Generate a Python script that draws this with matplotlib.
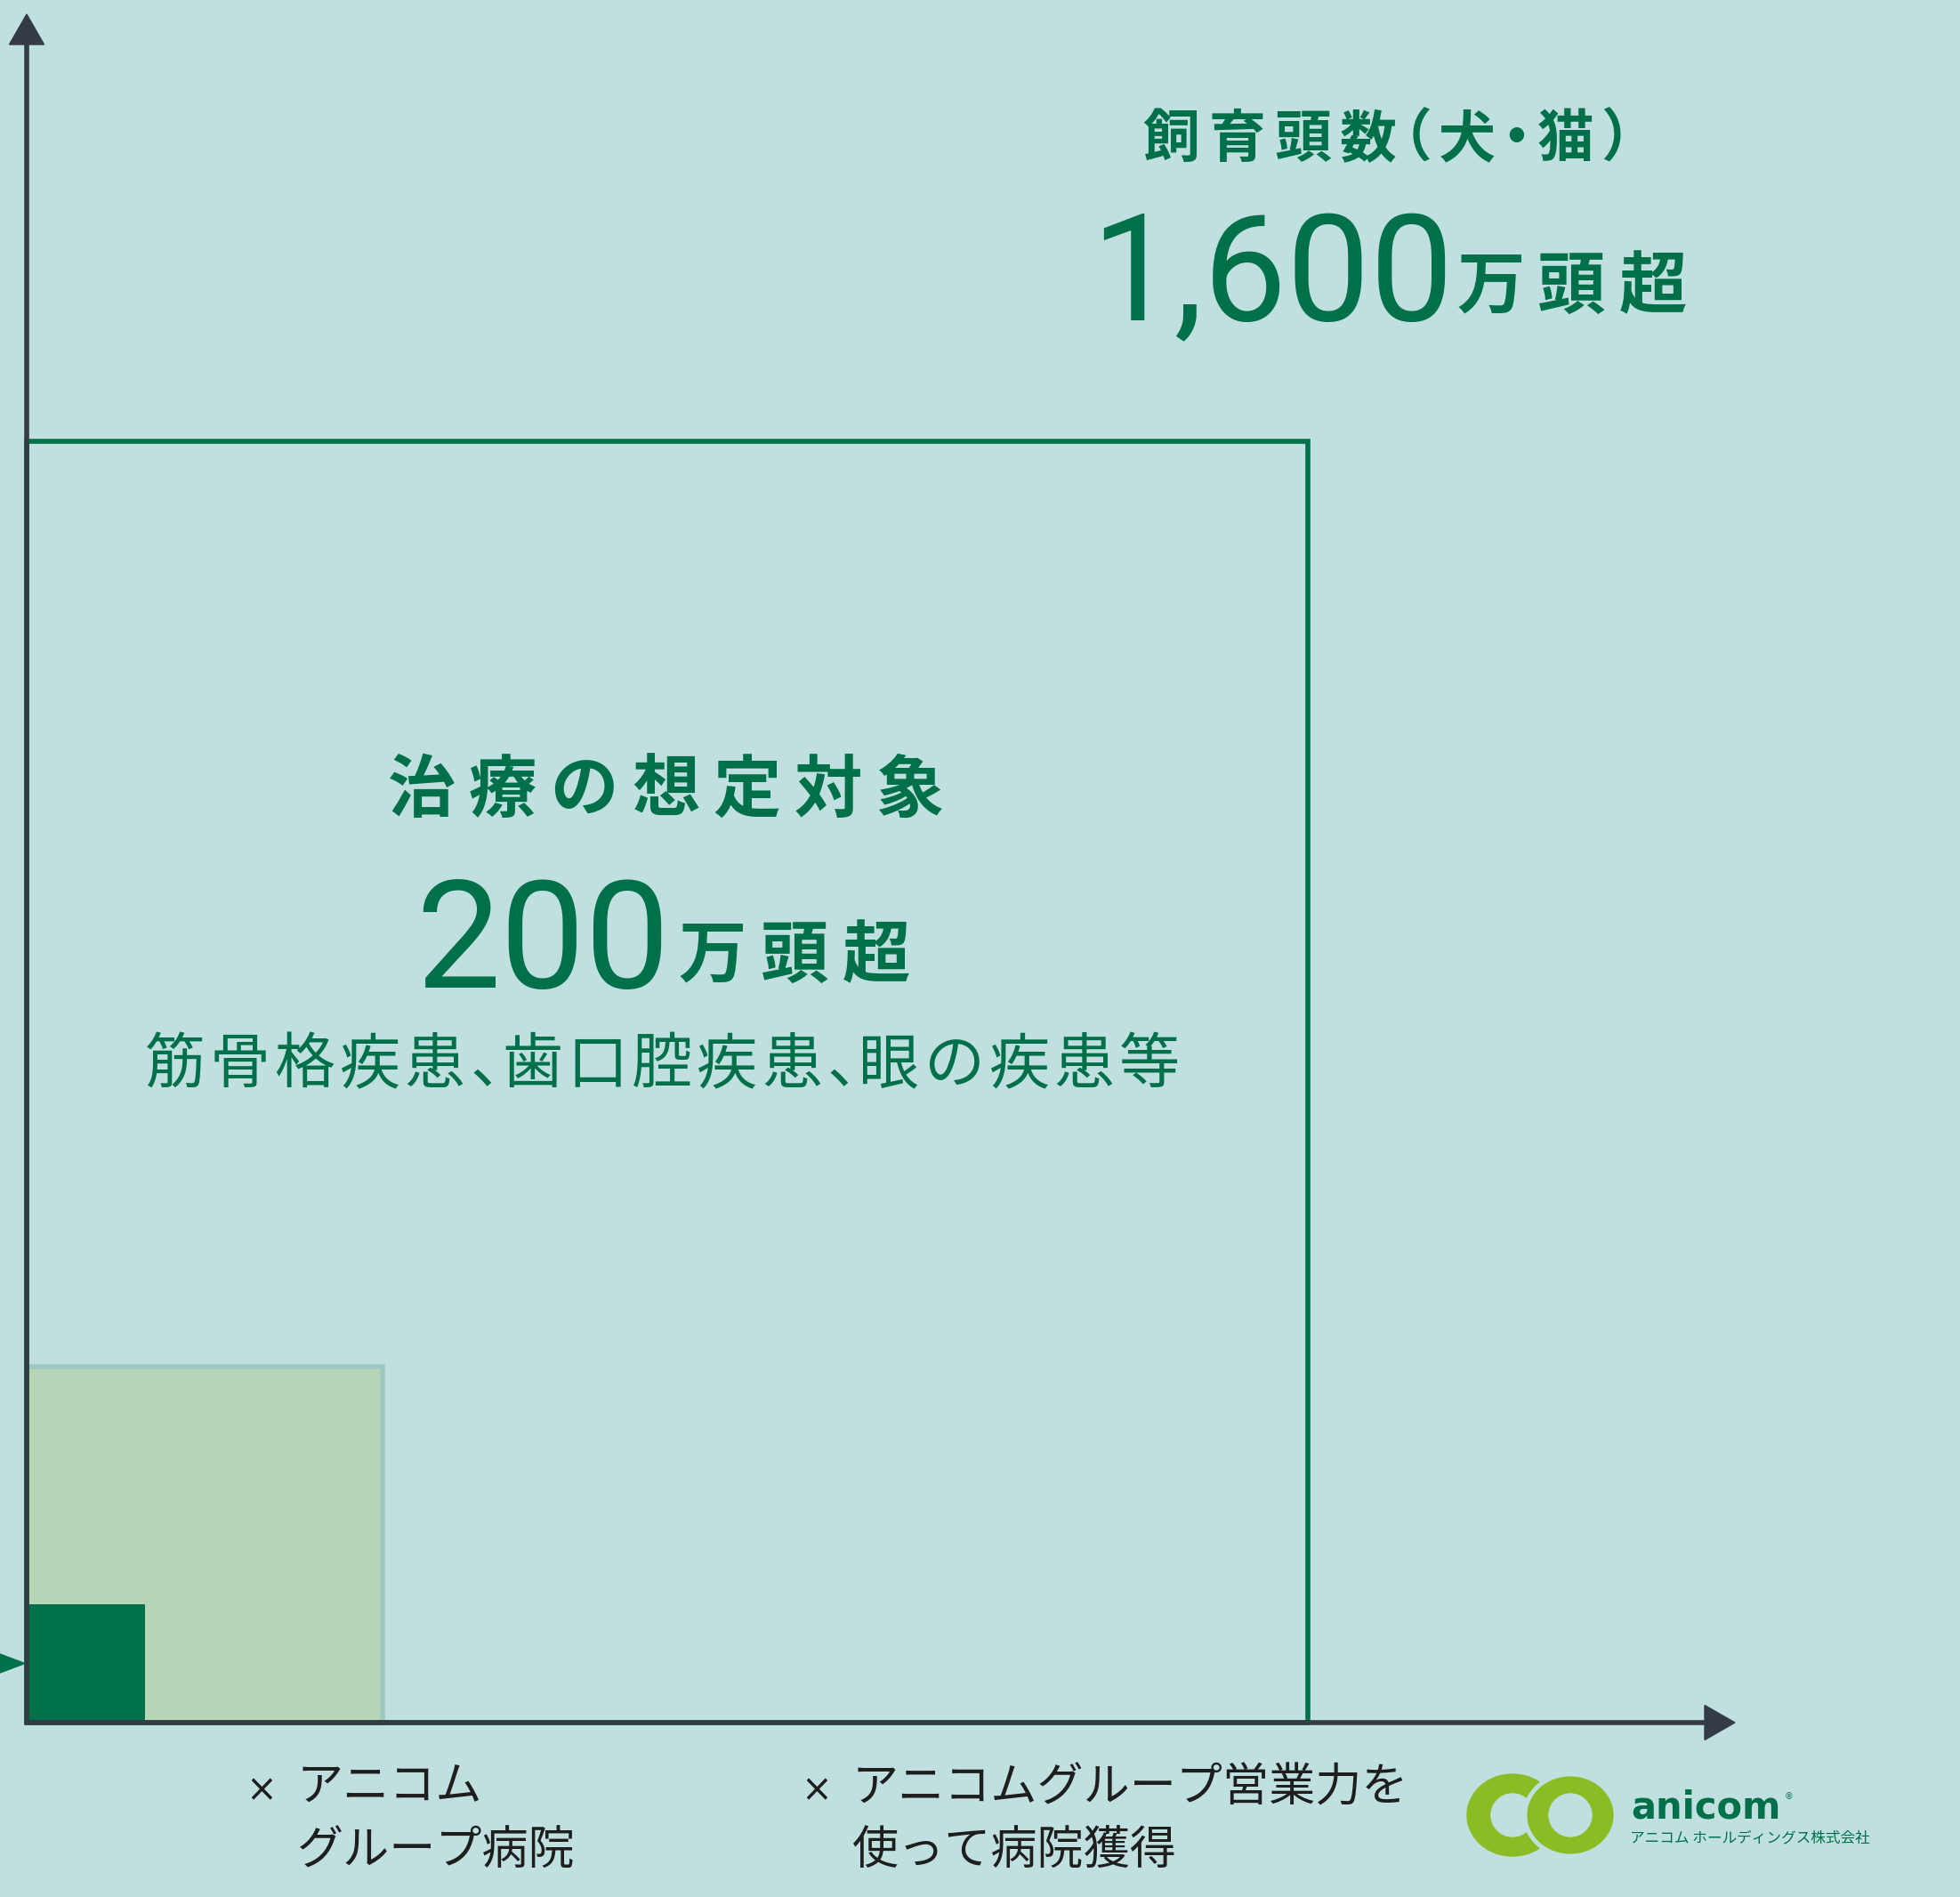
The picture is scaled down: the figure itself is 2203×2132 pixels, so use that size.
import matplotlib
matplotlib.use('Agg')
import matplotlib.pyplot as plt
from matplotlib.patches import Rectangle, Polygon, Ellipse

# データ
square_sides = [1440, 400, 133]          # 治療の想定対象 / アニコムグループ病院 / 現在
total_label = '飼育頭数（犬・猫）'
total_value = '1,600'
target_label = '治療の想定対象'
target_value = '200'
unit_label = '万頭超'
target_note = '筋骨格疾患、歯口腔疾患、眼の疾患等'
x_labels = [['アニコム', 'グループ病院'], ['アニコムグループ営業力を', '使って病院獲得']]

BG = '#c0e0e0'
GREEN = '#00704a'
LIGHT = '#b7d6b8'
LIGHT_EDGE = '#9dc9c0'
AXIS = '#333c44'
LIME = '#8abc24'
JP = ['Noto Sans CJK JP', 'DejaVu Sans']
NUM = ['Roboto', 'DejaVu Sans']

# 約物は半角送り、字面のずれを補正（em単位）
HALF = {'（': 0.5, '）': 0.5, '・': 0.5, '、': 0.5}
SHIFT = {'（': -0.25, '）': 0.25, '、': 0.28}


def spaced(ax, x0, y, text, pitch, fontsize, **kw):
    # 1文字ずつ並べて字間を広げる
    em = fontsize * 100 / 72
    x = x0
    for ch in text:
        w = pitch * HALF.get(ch, 1.0)
        ax.text(x + w / 2 + SHIFT.get(ch, 0) * em, y, ch, ha='center', va='baseline',
                fontsize=fontsize, **kw)
        x += w


fig = plt.figure(figsize=(22.03, 21.32), dpi=100, facecolor=BG)
ax = fig.add_axes([0, 0, 1, 1])
ax.set_xlim(-30, 2173)
ax.set_ylim(-196, 1936)
ax.set_facecolor(BG)
ax.axis('off')

lw = 4.0  # 約5.5px

big, mid, small = square_sides
ax.add_patch(Rectangle((0, 0), mid, mid, facecolor=LIGHT, edgecolor=LIGHT_EDGE, lw=lw, zorder=1))
ax.add_patch(Rectangle((0, 0), small, small, facecolor=GREEN, edgecolor='none', zorder=2))
ax.add_patch(Rectangle((0, 0), big, big, facecolor='none', edgecolor=GREEN, lw=lw, zorder=2))

# 軸と矢印
ax_len = 1920
head = 34
ax.plot([0, 0], [-2, ax_len - head], color=AXIS, lw=lw, solid_capstyle='butt', zorder=3)
ax.plot([-2, ax_len - head], [0, 0], color=AXIS, lw=lw, solid_capstyle='butt', zorder=3)
ax.add_patch(Polygon([(0, ax_len), (-19.5, ax_len - head), (19.5, ax_len - head)],
                     closed=True, color=AXIS, zorder=3))
ax.add_patch(Polygon([(ax_len, 0), (ax_len - head, -19.5), (ax_len - head, 19.5)],
                     closed=True, color=AXIS, zorder=3))
# 現在位置の小さな矢印
ax.add_patch(Polygon([(-2, small / 2), (-34, small / 2 - 12), (-34, small / 2 + 12)],
                     closed=True, color=GREEN, zorder=3))

# 上部テキスト
spaced(ax, 1249, 1760, total_label, 74, 46, family=JP, weight='bold', color=GREEN)
ax.text(1400, 1576, total_value, ha='center', va='baseline', family=NUM,
        fontsize=120, color=GREEN)
spaced(ax, 1600, 1590, unit_label, 91, 55, family=JP, weight='bold', color=GREEN)

# 中央テキスト
spaced(ax, 398, 1024, target_label, 91.5, 55, family=JP, weight='bold', color=GREEN)
ax.text(580, 826, target_value, ha='center', va='baseline', family=NUM,
        fontsize=122, color=GREEN)
spaced(ax, 725, 838, unit_label, 92, 55, family=JP, weight='bold', color=GREEN)
spaced(ax, 130, 719, target_note, 73, 49, family=JP, color=GREEN)

# 横軸の説明
for xs, lines in zip([264, 888], x_labels):
    ax.text(xs, -88, '×', ha='center', va='baseline', family='DejaVu Sans',
            fontsize=30, color='#1e1e1e')
    ax.text(xs + 40, -88, lines[0], ha='left', va='baseline', family=JP,
            fontsize=37.5, color='#1e1e1e')
    ax.text(xs + 40, -159, lines[1], ha='left', va='baseline', family=JP,
            fontsize=37.5, color='#1e1e1e')

# ロゴ
cy = -104
ax.add_patch(Ellipse((1670, cy), 102, 92, color=LIME, zorder=4))
ax.add_patch(Ellipse((1670, cy), 48, 48, color=BG, zorder=4))
ax.add_patch(Ellipse((1735, cy), 102, 92, facecolor=LIME, edgecolor=BG, lw=3.5, zorder=5))
ax.add_patch(Ellipse((1735, cy), 48, 48, color=BG, zorder=5))
ax.text(1803, -107, 'anicom', ha='left', va='baseline', family='DejaVu Sans',
        weight='bold', fontsize=30, color=GREEN)
ax.text(1976, -86, '®', ha='left', va='baseline', family='DejaVu Sans',
        fontsize=7, color=GREEN)
ax.text(1802, -134, 'アニコム ホールディングス株式会社', ha='left', va='baseline',
        family=JP, fontsize=12, color=GREEN)

fig.savefig('out.png', dpi=100, facecolor=BG)
